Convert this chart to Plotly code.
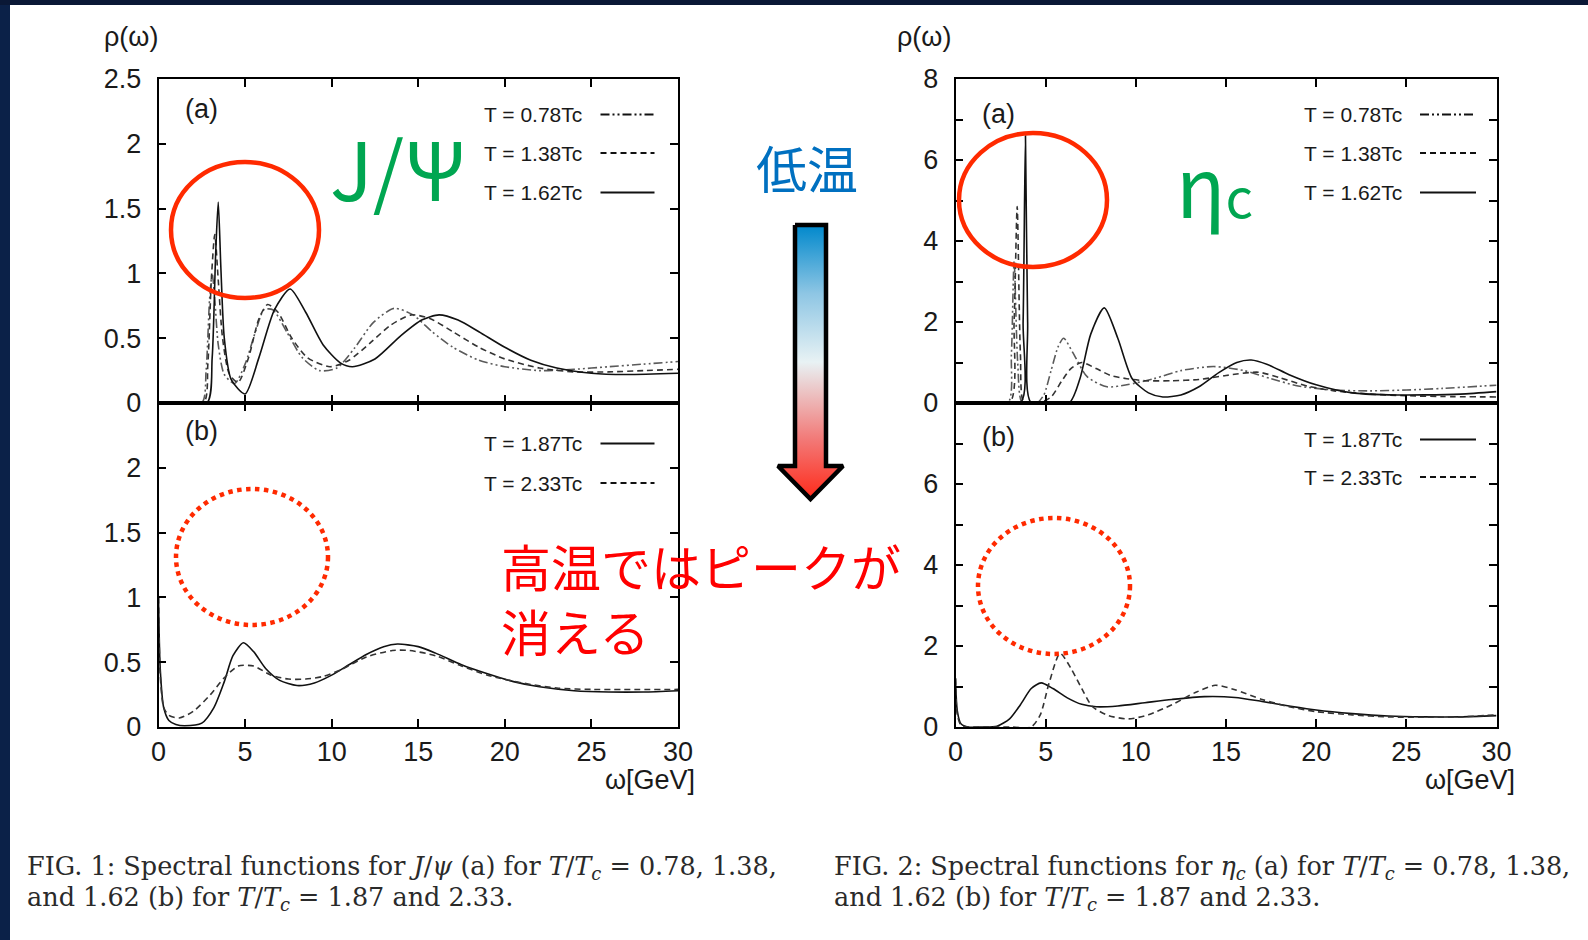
import plotly.graph_objects as go

W, H = 1588, 940

# ---------------- data ----------------
# J/psi (a)
jpsi_a_x_078 = [0, 2.5, 2.75, 2.95, 3.1, 3.25, 3.45, 3.8, 4.4, 5.0, 5.6, 6.1, 6.6, 7.4, 8.3, 9.3, 10.3, 11.3, 12.4, 13.6, 14.7, 15.8, 17.0, 18.5, 20, 22, 24, 26, 28, 30]
jpsi_a_y_078 = [0, 0, 0.25, 0.8, 1.0, 0.8, 0.45, 0.22, 0.15, 0.3, 0.55, 0.72, 0.72, 0.55, 0.35, 0.25, 0.27, 0.42, 0.62, 0.73, 0.68, 0.55, 0.43, 0.33, 0.28, 0.25, 0.26, 0.28, 0.3, 0.32]
jpsi_a_x_138 = [0, 2.6, 2.85, 3.05, 3.25, 3.45, 3.7, 4.1, 4.6, 5.2, 5.8, 6.3, 6.9, 7.7, 8.6, 9.9, 11.0, 12.2, 13.4, 14.6, 15.7, 17.0, 18.5, 20, 22, 24, 26, 28, 30]
jpsi_a_y_138 = [0, 0, 0.3, 0.95, 1.3, 0.95, 0.5, 0.22, 0.16, 0.35, 0.65, 0.76, 0.7, 0.5, 0.35, 0.28, 0.33, 0.46, 0.6, 0.68, 0.65, 0.55, 0.43, 0.34, 0.27, 0.24, 0.24, 0.25, 0.26]
jpsi_a_x_162 = [0, 2.8, 3.1, 3.3, 3.45, 3.6, 3.8, 4.2, 5.0, 5.8, 6.7, 7.6, 8.5, 9.5, 10.5, 11.2, 12.5, 14.0, 15.2, 16.2, 17.3, 18.5, 20, 21.5, 23, 25, 27, 30]
jpsi_a_y_162 = [0, 0, 0.35, 1.15, 1.55, 1.05, 0.5, 0.18, 0.07, 0.35, 0.72, 0.88, 0.7, 0.45, 0.31, 0.28, 0.34, 0.52, 0.64, 0.68, 0.64, 0.55, 0.43, 0.33, 0.27, 0.23, 0.22, 0.23]
# J/psi (b)
jpsi_b_x_187 = [0, 0.1, 0.3, 0.6, 1.0, 1.5, 2.5, 3.2, 3.8, 4.3, 4.9, 5.5, 6.2, 7.0, 8.0, 9.0, 10, 11, 12, 13, 13.8, 15, 16, 17.5, 19, 20.5, 22, 24, 26, 28, 30]
jpsi_b_y_187 = [1.0, 0.45, 0.15, 0.05, 0.02, 0.01, 0.03, 0.15, 0.35, 0.55, 0.65, 0.58, 0.45, 0.36, 0.32, 0.34, 0.4, 0.48, 0.56, 0.62, 0.64, 0.62, 0.57, 0.48, 0.41, 0.35, 0.31, 0.28, 0.27, 0.27, 0.28]
jpsi_b_x_233 = [0, 0.1, 0.3, 0.6, 1.2, 2.0, 3.0, 3.8, 4.6, 5.5, 6.5, 7.5, 8.5, 9.5, 10.5, 12, 13.5, 14.5, 16, 17.5, 19, 21, 23, 25, 30]
jpsi_b_y_233 = [1.0, 0.4, 0.15, 0.09, 0.07, 0.12, 0.25, 0.38, 0.47, 0.47, 0.4, 0.37, 0.37, 0.39, 0.44, 0.54, 0.59, 0.59, 0.55, 0.47, 0.4, 0.34, 0.3, 0.29, 0.29]
# eta_c (a)
eta_a_x_078 = [0, 2.9, 3.1, 3.25, 3.45, 3.7, 4.5, 4.9, 5.3, 5.7, 6.0, 6.5, 7.3, 8.4, 9.5, 11, 12.5, 14.3, 16, 17.5, 19, 21, 23, 25, 27, 30]
eta_a_y_078 = [0, 0, 1.2, 3.5, 1.0, 0.0, 0.0, 0.2, 0.8, 1.4, 1.6, 1.25, 0.65, 0.4, 0.45, 0.6, 0.8, 0.9, 0.8, 0.6, 0.42, 0.32, 0.3, 0.32, 0.36, 0.44]
eta_a_x_138 = [0, 3.0, 3.25, 3.42, 3.6, 3.8, 4.6, 5.3, 5.9, 6.4, 7.0, 7.8, 8.6, 9.5, 10.5, 12, 13.5, 15, 16.8, 18, 19.5, 21, 23, 25, 27, 30]
eta_a_y_138 = [0, 0, 2.0, 4.85, 1.2, 0, 0, 0.15, 0.55, 0.85, 1.0, 0.85, 0.68, 0.6, 0.55, 0.55, 0.58, 0.68, 0.76, 0.62, 0.42, 0.3, 0.22, 0.18, 0.16, 0.15]
eta_a_x_162 = [0, 3.6, 3.75, 3.88, 4.0, 4.2, 6.3, 6.9, 7.5, 8.25, 9.0, 9.8, 10.7, 11.5, 12.5, 13.5, 14.6, 15.6, 16.4, 17.3, 18.5, 20, 22, 24, 26, 28, 30]
eta_a_y_162 = [0, 0, 2.0, 6.6, 2.0, 0, 0, 0.6, 1.7, 2.35, 1.6, 0.6, 0.25, 0.15, 0.2, 0.4, 0.75, 1.0, 1.06, 0.95, 0.7, 0.45, 0.25, 0.2, 0.2, 0.22, 0.28]
# eta_c (b)
eta_b_x_187 = [0, 0.1, 0.3, 0.7, 1.5, 2.3, 3.0, 3.6, 4.2, 4.75, 5.4, 6.2, 7.0, 7.8, 9.0, 10.5, 12, 13.8, 15.5, 17, 18.5, 20, 22, 24, 26, 28, 30]
eta_b_y_187 = [1.2, 0.4, 0.08, 0.0, 0.0, 0.02, 0.2, 0.55, 0.95, 1.09, 0.95, 0.72, 0.56, 0.5, 0.52, 0.6, 0.68, 0.75, 0.73, 0.63, 0.52, 0.42, 0.33, 0.27, 0.25, 0.25, 0.28]
eta_b_x_233 = [0, 0.1, 0.3, 0.7, 1.5, 3.0, 4.2, 4.7, 5.2, 5.8, 6.4, 7.0, 7.6, 8.5, 9.6, 10.7, 12, 13.3, 14.4, 15.5, 17, 18.5, 20, 22, 24, 26, 28, 30]
eta_b_y_233 = [1.2, 0.3, 0.05, 0.0, 0.0, 0.0, 0.0, 0.3, 1.1, 1.82, 1.45, 0.95, 0.5, 0.28, 0.2, 0.3, 0.55, 0.85, 1.03, 0.92, 0.68, 0.5, 0.38, 0.3, 0.25, 0.24, 0.25, 0.3]

# ticks
x_ticks = [0, 5, 10, 15, 20, 25, 30]
jpsi_yticks_a = [0, 0.5, 1, 1.5, 2, 2.5]
jpsi_yticks_b = [0, 0.5, 1, 1.5, 2]
eta_yticks_a = [0, 2, 4, 6, 8]
eta_yticks_b = [0, 2, 4, 6]

legend_a = ["T = 0.78Tc", "T = 1.38Tc", "T = 1.62Tc"]
legend_b = ["T = 1.87Tc", "T = 2.33Tc"]

# ---------------- styles ----------------
DDOT = "9px,3px,2px,3px,2px,3px"
sty = {
    "T = 0.78Tc": dict(color="#5a5a5a", width=1.6, dash=DDOT),
    "T = 1.38Tc": dict(color="#333333", width=1.6, dash="6px,4px"),
    "T = 1.62Tc": dict(color="#111111", width=1.6, dash="solid"),
    "T = 1.87Tc": dict(color="#111111", width=1.6, dash="solid"),
    "T = 2.33Tc": dict(color="#333333", width=1.6, dash="6px,4px"),
}

fig = go.Figure()

def add(xs, ys, name, xa, ya):
    st = sty[name]
    fig.add_trace(go.Scatter(x=xs, y=ys, mode="lines", showlegend=False, hoverinfo="skip",
                             line=dict(color=st["color"], width=st["width"], dash=st["dash"],
                                       shape="spline", smoothing=0.7),
                             xaxis=xa, yaxis=ya))

add(jpsi_a_x_078, jpsi_a_y_078, "T = 0.78Tc", "x", "y")
add(jpsi_a_x_138, jpsi_a_y_138, "T = 1.38Tc", "x", "y")
add(jpsi_a_x_162, jpsi_a_y_162, "T = 1.62Tc", "x", "y")
add(jpsi_b_x_187, jpsi_b_y_187, "T = 1.87Tc", "x2", "y2")
add(jpsi_b_x_233, jpsi_b_y_233, "T = 2.33Tc", "x2", "y2")
add(eta_a_x_078, eta_a_y_078, "T = 0.78Tc", "x3", "y3")
add(eta_a_x_138, eta_a_y_138, "T = 1.38Tc", "x3", "y3")
add(eta_a_x_162, eta_a_y_162, "T = 1.62Tc", "x3", "y3")
add(eta_b_x_187, eta_b_y_187, "T = 1.87Tc", "x4", "y4")
add(eta_b_x_233, eta_b_y_233, "T = 2.33Tc", "x4", "y4")

# ---------------- layout geometry (pixels) ----------------
LX0, LX1 = 158.5, 678.0
RX0, RX1 = 955.5, 1496.5
YT, YM, YB = 79.0, 403.0, 727.0

def px(v):
    return v / W

def py(v):
    return 1 - v / H

LDOM = [px(LX0), px(LX1)]
RDOM = [px(RX0), px(RX1)]
TDOM = [py(YM), py(YT)]
BDOM = [py(YB), py(YM)]

TICKFONT = dict(family="Liberation Sans, Arial, sans-serif", size=27, color="#1a1a1a")
common = dict(showline=True, linecolor="black", linewidth=1.6, mirror="ticks", ticks="inside",
              ticklen=8, tickwidth=1.5, tickcolor="black", showgrid=False, zeroline=False,
              tickfont=TICKFONT, fixedrange=True, automargin=False)

def minor(d):
    return dict(dtick=d, tick0=0, ticks="inside", ticklen=8, tickwidth=1.5, tickcolor="black", showgrid=False)

fig.update_layout(
    width=W, height=H, autosize=False,
    margin=dict(l=0, r=0, t=0, b=0, pad=0, autoexpand=False),
    paper_bgcolor="white", plot_bgcolor="rgba(0,0,0,0)", showlegend=False,
    xaxis=dict(domain=LDOM, range=[0, 30], tickvals=x_ticks, showticklabels=False, anchor="y", **common),
    yaxis=dict(domain=TDOM, range=[0, 2.5], tickvals=jpsi_yticks_a, anchor="x",
               ticklabelstandoff=10, **common),
    xaxis2=dict(domain=LDOM, range=[0, 30], tickvals=x_ticks, anchor="y2", ticklabelstandoff=0, **common),
    yaxis2=dict(domain=BDOM, range=[0, 2.5], tickvals=jpsi_yticks_b, anchor="x2", minor=minor(0.5),
                ticklabelstandoff=10, **common),
    xaxis3=dict(domain=RDOM, range=[0, 30], tickvals=x_ticks, showticklabels=False, anchor="y3", **common),
    yaxis3=dict(domain=TDOM, range=[0, 8], tickvals=eta_yticks_a, anchor="x3", minor=minor(1),
                ticklabelstandoff=10, **common),
    xaxis4=dict(domain=RDOM, range=[0, 30], tickvals=x_ticks, anchor="y4", ticklabelstandoff=0, **common),
    yaxis4=dict(domain=BDOM, range=[0, 8], tickvals=eta_yticks_b, anchor="x4", minor=minor(1),
                ticklabelstandoff=10, **common),
    xaxis5=dict(domain=[0, 1], range=[0, W], visible=False, anchor="y5", fixedrange=True, automargin=False),
    yaxis5=dict(domain=[0, 1], range=[0, H], visible=False, anchor="x5", fixedrange=True, automargin=False),
)

# ---------------- decorations in pixel coordinates (overlay axes) ----------------
shapes = []
annos = []

def Y(v):
    return H - v

def line(x0, y0, x1, y1, color="black", width=2, dash="solid"):
    shapes.append(dict(type="line", xref="x5", yref="y5", x0=x0, y0=Y(y0), x1=x1, y1=Y(y1),
                       line=dict(color=color, width=width, dash=dash), layer="above"))

def text(x, y, s, size, color="#1a1a1a", family="Liberation Sans, Arial, sans-serif", xanchor="center",
         yanchor="middle", align="center"):
    annos.append(dict(xref="x5", yref="y5", x=x, y=Y(y), text=s, showarrow=False, xanchor=xanchor,
                      yanchor=yanchor, align=align, font=dict(size=size, color=color, family=family)))

# dark slide border
shapes.append(dict(type="rect", xref="x5", yref="y5", x0=0, x1=10, y0=0, y1=H, line=dict(width=0),
                   fillcolor="#0b2148", layer="above"))
shapes.append(dict(type="rect", xref="x5", yref="y5", x0=0, x1=W, y0=Y(5), y1=H, line=dict(width=0),
                   fillcolor="#0a1836", layer="above"))

# thick middle axis lines
line(LX0, YM, LX1, YM, width=3.5)
line(RX0, YM, RX1, YM, width=3.5)

# legends
for side in ["L", "R"]:
    tx = 584 if side == "L" else 1404
    lx0, lx1 = (600.5, 654.5) if side == "L" else (1420, 1476)
    for name, yy in zip(legend_a, [114.5, 153, 192.5]):
        text(tx, yy, name, 21, xanchor="right")
        line(lx0, yy, lx1, yy, color="#111", width=2, dash=sty[name]["dash"])
    ys_b = [443.5, 483] if side == "L" else [439.5, 477]
    for name, yy in zip(legend_b, ys_b):
        text(tx, yy, name, 21, xanchor="right")
        line(lx0, yy, lx1, yy, color="#111", width=2, dash=sty[name]["dash"])

# panel letters
text(201.5, 109, "(a)", 27)
text(201.5, 431, "(b)", 27)
text(998, 114, "(a)", 27)
text(998, 437, "(b)", 27)

# axis titles
text(131, 37, "ρ(ω)", 27)
text(924, 37, "ρ(ω)", 27)
text(697, 780, "ω[GeV]", 27, xanchor="right")
text(1517, 780, "ω[GeV]", 27, xanchor="right")

# highlights
JP = "Noto Sans CJK JP, Noto Sans, sans-serif"
text(398, 166, "J/Ψ", 80, color="#00a651", family=JP)
text(1214, 182, "η<span style='font-size:54px'>c</span>", 82, color="#00a651", family=JP)
text(807, 167, "低温", 51, color="#0070c0", family=JP)
text(499, 597, "高温ではピークが<br>消える", 50, color="#ff0000", family=JP, xanchor="left", align="left")

RED = "#ff2a00"
def ellipse(cx, cy, rx, ry, dash="solid"):
    shapes.append(dict(type="circle", xref="x5", yref="y5", x0=cx - rx, x1=cx + rx, y0=Y(cy + ry), y1=Y(cy - ry),
                       line=dict(color=RED, width=4.5, dash=dash), layer="above"))

ellipse(245, 230, 74, 68)
ellipse(1033, 200, 74, 67)
ellipse(252, 557, 76, 68, dash="dot")
ellipse(1054, 586, 76, 68, dash="dot")

# gradient arrow
arrow_x = [795, 826, 826, 843, 810.5, 778, 795, 795]
arrow_y = [Y(v) for v in [225, 225, 466, 466, 499, 466, 466, 225]]
fig.add_trace(go.Scatter(x=arrow_x, y=arrow_y, mode="lines", fill="toself", showlegend=False, hoverinfo="skip",
                         line=dict(color="black", width=4.5),
                         fillgradient=dict(type="vertical",
                                           colorscale=[[0, "#ff2a1a"], [0.22, "#f27a78"], [0.5, "#e8f2f4"],
                                                       [0.75, "#8ec6e4"], [1, "#0088cc"]]),
                         xaxis="x5", yaxis="y5"))

# captions
SERIF = "DejaVu Serif, Liberation Serif, serif"
CAP = 25.5
text(25, 867, "FIG. 1: Spectral functions for <i>J</i>/<i>ψ</i> (a) for <i>T</i>/<i>T<sub>c</sub></i> = 0.78, 1.38,",
     CAP, color="#2a2a2a", family=SERIF, xanchor="left")
text(25, 898, "and 1.62 (b) for <i>T</i>/<i>T<sub>c</sub></i> = 1.87 and 2.33.",
     CAP, color="#2a2a2a", family=SERIF, xanchor="left")
text(832, 867, "FIG. 2: Spectral functions for <i>η<sub>c</sub></i> (a) for <i>T</i>/<i>T<sub>c</sub></i> = 0.78, 1.38,",
     CAP, color="#2a2a2a", family=SERIF, xanchor="left")
text(832, 898, "and 1.62 (b) for <i>T</i>/<i>T<sub>c</sub></i> = 1.87 and 2.33.",
     CAP, color="#2a2a2a", family=SERIF, xanchor="left")

fig.update_layout(shapes=shapes, annotations=annos)

POST = ("var gd=document.getElementById('{plot_id}');"
        "document.documentElement.style.margin='0';document.body.style.margin='0';"
        "document.documentElement.style.overflow='hidden';document.body.style.overflow='hidden';"
        "gd.style.position='fixed';gd.style.left='0px';gd.style.top='0px';")
fig.write_html("out.html", post_script=POST)
